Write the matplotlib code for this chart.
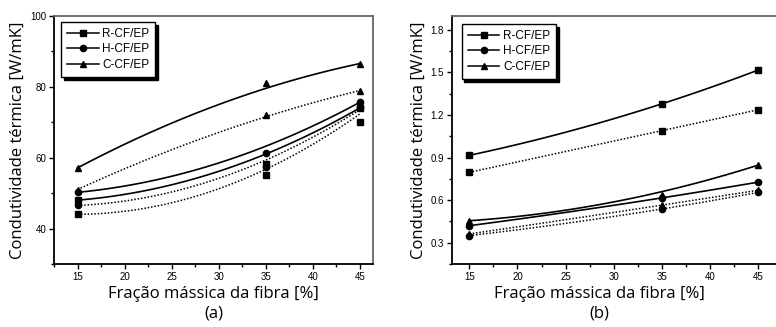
import numpy as np
import matplotlib
matplotlib.use('Agg')
import matplotlib.pyplot as plt
from matplotlib.lines import Line2D
from matplotlib.ticker import MultipleLocator

plt.rcParams['font.family'] = ['Liberation Sans', 'DejaVu Sans']

# fração mássica (x)
x = [15, 35, 45]

# (a) pontos medidos e curvas ajustadas
a_r = [48, 58.3, 74]
a_r_fit = [48, 61, 74]
a_r_dot = [44, 55, 70]
a_r_dot_fit = [44, 56.7, 72.3]
a_h = [50.2, 61.2, 75.6]
a_h_fit = [50.2, 63.2, 75.6]
a_h_dot = [46.5, 57.3, 74.3]
a_h_dot_fit = [46.5, 59.3, 73.5]
a_c = [57.1, 81.1, 86.5]
a_c_fit = [57.1, 79.5, 86.5]
a_c_dot = [51, 72, 78.9]
a_c_dot_fit = [51, 71.5, 78.9]

# (b)
b_r = [0.916, 1.279, 1.517]
b_r_dot = [0.796, 1.09, 1.237]
b_h = [0.42, 0.616, 0.727]
b_h_dot = [0.35, 0.538, 0.655]
b_c = [0.455, 0.635, 0.847]
b_c_fit = [0.455, 0.66, 0.847]
b_c_dot = [0.362, 0.565, 0.67]

labels = ['R-CF/EP', 'H-CF/EP', 'C-CF/EP']
markers = ['s', 'o', '^']


def curve(ax, pts, fit, mk, ls):
    # curva suave (ajuste) + marcadores
    c = np.polyfit(x, fit, 2)
    xs = np.linspace(x[0], x[-1], 120)
    if ls == '-':
        ax.plot(xs, np.polyval(c, xs), color='black', lw=1.2, ls='-')
    else:
        ax.plot(xs, np.polyval(c, xs), color='black', lw=1.1, ls=(0, (1, 1.2)))
    ax.plot(x, pts, ls='none', marker=mk, color='black', ms=4.5)


def style(ax):
    ax.tick_params(which='major', direction='out', length=3.5, width=1, labelsize=7, pad=2)
    ax.tick_params(which='minor', direction='out', length=2, width=1)
    ax.xaxis.set_major_locator(MultipleLocator(5))
    ax.xaxis.set_minor_locator(MultipleLocator(2.5))
    for s in ['left', 'bottom']:
        ax.spines[s].set_linewidth(1.3)
        ax.spines[s].set_color('black')
    for s in ['top', 'right']:
        ax.spines[s].set_linewidth(1.3)
        ax.spines[s].set_color('#666666')
    ax.set_xlabel('Fração mássica da fibra [%]', family='Open Sans', fontsize=12, labelpad=3)
    ax.set_ylabel('Condutividade térmica [W/mK]', family='Open Sans', fontsize=12, labelpad=3)
    handles = [Line2D([], [], color='black', lw=1.1, marker=m, ms=4.5) for m in markers]
    return handles


def legend(ax, h, anchor):
    ax.legend(h, labels, loc='upper left', bbox_to_anchor=anchor, borderaxespad=0,
              fontsize=8.5, fancybox=False, edgecolor='black', framealpha=1,
              shadow={'color': 'black', 'alpha': 1}, handlelength=2.7, handletextpad=0.3,
              labelspacing=0.3, borderpad=0.5)


fig = plt.figure(figsize=(7.76, 3.27), dpi=100)

ax1 = fig.add_axes([54 / 776, 1 - 264 / 327, (373 - 54) / 776, (264 - 15.7) / 327])
curve(ax1, a_r, a_r_fit, 's', '-')
curve(ax1, a_r_dot, a_r_dot_fit, 's', ':')
curve(ax1, a_h, a_h_fit, 'o', '-')
curve(ax1, a_h_dot, a_h_dot_fit, 'o', ':')
curve(ax1, a_c, a_c_fit, '^', '-')
curve(ax1, a_c_dot, a_c_dot_fit, '^', ':')
ax1.set_xlim(12.5, 46.4)
ax1.set_ylim(30, 100)
ax1.yaxis.set_minor_locator(MultipleLocator(10))
ax1.set_yticks([40, 60, 80, 100])
h = style(ax1)
legend(ax1, h, (0.022, 0.975))
fig.text((54 + 373) / 2 / 776, 1 - 313 / 327, '(a)', family='Open Sans', fontsize=12,
         ha='center', va='center')

ax2 = fig.add_axes([451.7 / 776, 1 - 264 / 327, (790 - 451.7) / 776, (264 - 15.7) / 327])
curve(ax2, b_r, b_r, 's', '-')
curve(ax2, b_r_dot, b_r_dot, 's', ':')
curve(ax2, b_h, b_h, 'o', '-')
curve(ax2, b_h_dot, b_h_dot, 'o', ':')
curve(ax2, b_c, b_c_fit, '^', '-')
curve(ax2, b_c_dot, b_c_dot, '^', ':')
ax2.set_xlim(13.17, 48.3)
ax2.set_ylim(0.15, 1.9)
ax2.yaxis.set_major_locator(MultipleLocator(0.3))
ax2.yaxis.set_minor_locator(MultipleLocator(0.15))
h = style(ax2)
ax2.set_xticks([15, 20, 25, 30, 35, 40, 45])
ax2.xaxis.label.set_x((599 - 451.7) / (790 - 451.7))
legend(ax2, h, (0.0296, 0.967))
fig.text(599 / 776, 1 - 313 / 327, '(b)', family='Open Sans', fontsize=12,
         ha='center', va='center')

fig.savefig('out.png', dpi=100)
